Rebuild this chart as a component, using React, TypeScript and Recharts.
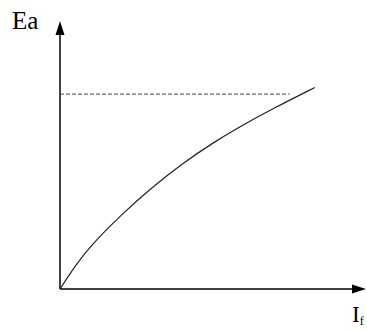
import React from 'react';
import { LineChart, Line, XAxis, YAxis, ReferenceDot, ReferenceLine } from 'recharts';

// Field current (If) against induced EMF (Ea) — magnetisation curve
const fieldCurrent = [0, 0.5, 1, 2, 3, 4, 5, 6, 7, 8.33];
const emfValues = [0, 0.88, 1.62, 2.78, 3.8, 4.7, 5.48, 6.16, 6.78, 7.55];

// Saturation level (dashed asymptote)
const saturationX = [0, 7.5];
const saturationY = [7.3, 7.3];

const X_MAX = 10;
const Y_MAX = 10;

const curveData = fieldCurrent.map((x, i) => ({ x, y: emfValues[i] }));
const saturationData = saturationX.map((x, i) => ({ x, y: saturationY[i] }));

const W = 367;
const H = 330;

const UpArrow = (props: any) => {
  const { cx, cy } = props;
  return <path d={`M${cx},${cy - 1} L${cx - 4.5},${cy + 13} L${cx + 4.5},${cy + 13} Z`} fill="#000" />;
};

const RightArrow = (props: any) => {
  const { cx, cy } = props;
  return <path d={`M${cx},${cy} L${cx - 14},${cy - 4.5} L${cx - 14},${cy + 4.5} Z`} fill="#000" />;
};

export default function App() {
  return (
    <div style={{ position: 'absolute', left: 0, top: 0, width: W, height: H, background: '#fff' }}>
      <LineChart width={W} height={H} margin={{ top: 22, right: 1, bottom: 41, left: 60 }}>
        <XAxis type="number" dataKey="x" domain={[0, X_MAX]} hide allowDataOverflow />
        <YAxis type="number" dataKey="y" domain={[0, Y_MAX]} hide allowDataOverflow />
        <ReferenceLine
          segment={[{ x: 0, y: 0 }, { x: X_MAX - 0.3, y: 0 }]}
          stroke="#000"
          strokeWidth={1.5}
          ifOverflow="visible"
        />
        <ReferenceLine
          segment={[{ x: 0, y: 0 }, { x: 0, y: Y_MAX - 0.3 }]}
          stroke="#000"
          strokeWidth={1.5}
          ifOverflow="visible"
        />
        <Line
          data={saturationData}
          dataKey="y"
          type="linear"
          stroke="#444"
          strokeWidth={1}
          strokeDasharray="4 2"
          dot={false}
          isAnimationActive={false}
        />
        <Line
          data={curveData}
          dataKey="y"
          type="basis"
          stroke="#222"
          strokeWidth={1.2}
          dot={false}
          isAnimationActive={false}
        />
        <ReferenceDot x={0} y={Y_MAX} r={0} ifOverflow="visible" shape={UpArrow} />
        <ReferenceDot x={X_MAX} y={0} r={0} ifOverflow="visible" shape={RightArrow} />
      </LineChart>
      <div
        style={{
          position: 'absolute',
          left: 12,
          top: 8,
          fontFamily: '"Liberation Serif", serif',
          fontSize: 25,
          lineHeight: '26px',
          color: '#000',
        }}
      >
        Ea
      </div>
      <div
        style={{
          position: 'absolute',
          left: 352,
          top: 303,
          fontFamily: '"Liberation Serif", serif',
          fontSize: 23,
          lineHeight: '24px',
          color: '#000',
          whiteSpace: 'nowrap',
        }}
      >
        I<span style={{ fontSize: 12, verticalAlign: '-3px', lineHeight: 0 }}>f</span>
      </div>
    </div>
  );
}
